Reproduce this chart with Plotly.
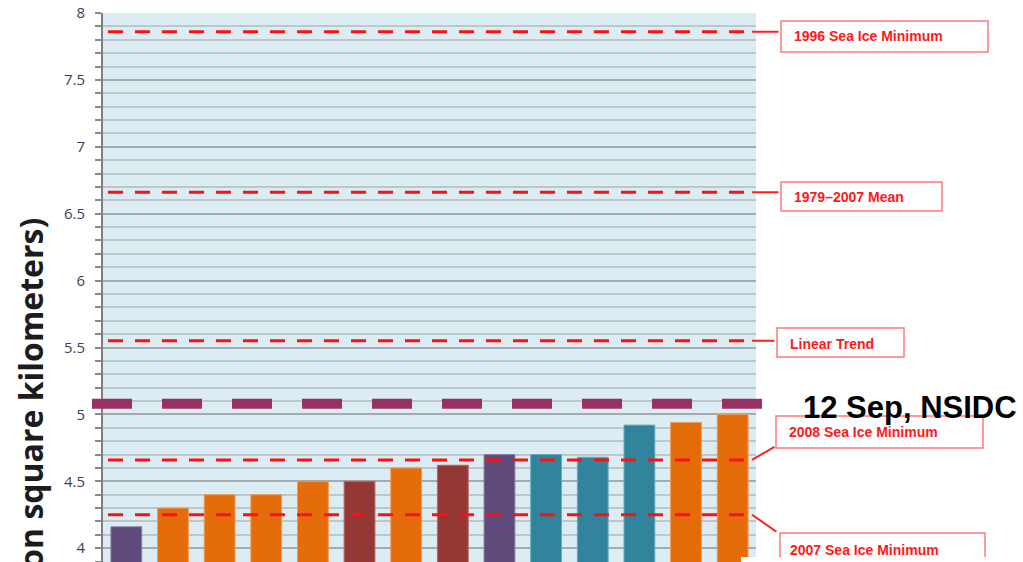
import plotly.graph_objects as go

# ---- data -------------------------------------------------------------
outlooks = ["Outlook 1", "Outlook 2", "Outlook 3", "Outlook 4", "Outlook 5",
            "Outlook 6", "Outlook 7", "Outlook 8", "Outlook 9", "Outlook 10",
            "Outlook 11", "Outlook 12", "Outlook 13", "Outlook 14"]
extent = [4.16, 4.30, 4.40, 4.40, 4.50, 4.50, 4.60, 4.62, 4.70, 4.70,
          4.68, 4.92, 4.94, 5.00]
method = ["A", "B", "B", "B", "B", "C", "B", "C", "A", "D", "D", "D", "B", "B"]

ref_labels = ["1996 Sea Ice Minimum", "1979–2007 Mean", "Linear Trend",
              "2008 Sea Ice Minimum", "2007 Sea Ice Minimum"]
ref_values = [7.86, 6.66, 5.55, 4.66, 4.25]

nsidc_label = "12 Sep, NSIDC"
nsidc_value = 5.08

y_tick_vals = [4, 4.5, 5, 5.5, 6, 6.5, 7, 7.5, 8]
y_tick_text = ["4", "4.5", "5", "5.5", "6", "6.5", "7", "7.5", "8"]
y_title = "Extent (million square kilometers)"

# ---- styling ----------------------------------------------------------
fill = {"A": "#604a7b", "B": "#e46c0a", "C": "#953735", "D": "#31849b"}
edge = {"A": "#8c7ba3", "B": "#f09a55", "C": "#b56764", "D": "#68a9bb"}

W, H = 1023, 562
PL, PR, PT = 103, 756, 13          # plot-area edges in pixels


def px(x):
    return (x - PL) / (PR - PL)


def py(y):
    return (H - y) / (H - PT)


fig = go.Figure(go.Bar(
    x=outlooks, y=extent,
    marker=dict(color=[fill[m] for m in method],
                line=dict(color=[edge[m] for m in method], width=1)),
    hoverinfo="x+y",
))

shapes = []
# red dashed reference levels
for v in ref_values:
    shapes.append(dict(type="line", xref="paper", yref="y",
                       x0=px(108), x1=px(752), y0=v, y1=v,
                       line=dict(color="#ff1010", width=3, dash="15px,12px"),
                       layer="above"))
# NSIDC daily value
shapes.append(dict(type="line", xref="paper", yref="y",
                   x0=px(92), x1=px(762), y0=nsidc_value, y1=nsidc_value,
                   line=dict(color="#983264", width=10, dash="40px,30px"),
                   layer="above"))

# label boxes: (left, top, right, bottom, text-x, text-y, connector dx, dy)
boxes = [
    (781, 21, 988, 52, 792, 36.5, 28, 0),
    (781, 182, 942, 211, 792, 197, 28, 0),
    (777, 328, 904, 357, 788, 344, 24, 0),
    (776, 416, 983, 448, 787, 432, 24, -14),
    (780, 533, 985, 575, 788, 550, 26, 18),
]

annotations = []
for label, v, (x0, y0, x1, y1, tx, ty, dx, dy) in zip(ref_labels, ref_values, boxes):
    shapes.append(dict(type="rect", xref="paper", yref="paper",
                       x0=px(x0), x1=px(x1), y0=py(y1), y1=py(y0),
                       line=dict(color="#ff7a7a", width=1.5),
                       fillcolor="rgba(255,255,255,0)", layer="above"))
    annotations.append(dict(text=label, xref="paper", yref="paper",
                            x=px(tx), y=py(ty), xanchor="left", yanchor="middle",
                            showarrow=False,
                            font=dict(family="Liberation Sans, Arial", size=14,
                                      color="#ff1a1a", weight="bold")))
    # connector from the end of the dashed level to its box
    annotations.append(dict(text=" ", xref="paper", yref="y", x=px(752), y=v,
                            showarrow=True, arrowhead=0, arrowwidth=2,
                            arrowcolor="#ff2020", ax=dx, ay=dy,
                            font=dict(size=1)))

# white strip at the lower right edge
shapes.append(dict(type="rect", xref="paper", yref="paper",
                   x0=px(741), x1=px(1030), y0=py(570), y1=py(557),
                   line=dict(width=0), fillcolor="white", layer="above"))

annotations.append(dict(text=nsidc_label, xref="paper", yref="paper",
                        x=px(801), y=py(407), xanchor="left", yanchor="middle",
                        showarrow=False,
                        font=dict(family="Liberation Sans, Arial", size=31,
                                  color="black", weight="bold")))

annotations.append(dict(text=y_title, xref="paper", yref="paper",
                        x=px(30), y=py(216), xanchor="center", yanchor="top",
                        textangle=-90, showarrow=False,
                        font=dict(family="Open Sans", size=32,
                                  color="#1c1c1c", weight=700)))

fig.update_layout(
    width=W, height=H,
    margin=dict(l=PL, r=W - PR, t=PT, b=0, pad=0),
    paper_bgcolor="white",
    plot_bgcolor="#dbedf3",
    bargap=0.34,
    showlegend=False,
    shapes=shapes,
    annotations=annotations,
    xaxis=dict(showticklabels=False, showgrid=False, zeroline=False,
               showline=False, ticks=""),
    yaxis=dict(range=[3.897, 8.0], tickvals=y_tick_vals, ticktext=y_tick_text,
               showgrid=True, gridcolor="#a3abaf", gridwidth=2,
               zeroline=False, showline=True, linecolor="#7f7f7f", linewidth=2,
               ticks="outside", ticklen=6, tickcolor="#8a8a8a", tickwidth=1.5,
               ticklabelstandoff=7,
               tickfont=dict(family="Open Sans", size=15, color="#3e3e62"),
               minor=dict(dtick=0.1, tick0=4, showgrid=True, gridcolor="#bcc7cb",
                          gridwidth=1.5, ticks="outside", ticklen=6,
                          tickcolor="#8a8a8a", tickwidth=1.5)),
)

fig.write_html("out.html")
